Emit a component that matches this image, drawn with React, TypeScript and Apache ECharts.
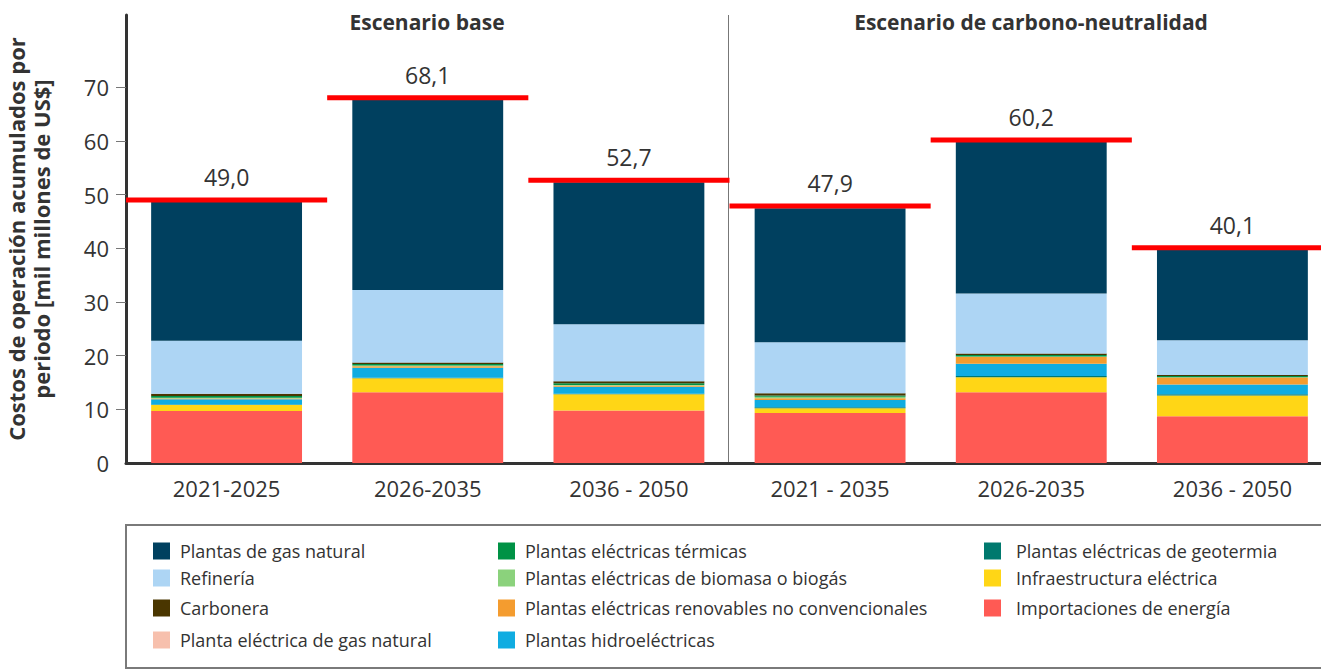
import React, { useEffect, useRef } from 'react';
import * as echarts from 'echarts';

const categories = ['2021-2025', '2026-2035', '2036 - 2050', '2021 - 2035', '2026-2035', '2036 - 2050'];
const totals = [49.0, 68.1, 52.7, 47.9, 60.2, 40.1];

const importaciones = [9.7, 13.2, 9.8, 9.3, 13.2, 8.7];
const infraestructura = [1.1, 2.6, 3.0, 0.9, 2.8, 3.9];
const geotermia = [0.1, 0.1, 0.1, 0.2, 0.2, 0.2];
const hidro = [1.0, 1.85, 1.3, 1.35, 2.3, 1.85];
const renovables = [0.1, 0.3, 0.25, 0.3, 1.25, 1.3];
const biomasa = [0.15, 0.1, 0.1, 0.3, 0.1, 0.05];
const termicas = [0.35, 0.3, 0.3, 0.25, 0.3, 0.2];
const plantaGas = [0, 0, 0, 0, 0, 0];
const carbonera = [0.4, 0.3, 0.4, 0.4, 0.25, 0.2];
const refineria = [9.9, 13.5, 10.6, 9.5, 11.2, 6.5];
const gasNatural = [26.1, 35.5, 26.5, 25.0, 28.4, 17.1];

const yTicks = [0, 10, 20, 30, 40, 50, 60, 70];
const scenarios = ['Escenario base', 'Escenario de carbono-neutralidad'];

const FONT = 'Open Sans';
const TXT = '#333333';

const stackSeries = [
  { name: 'Importaciones de energía', data: importaciones, color: '#FF5A54' },
  { name: 'Infraestructura eléctrica', data: infraestructura, color: '#FFD616' },
  { name: 'Plantas eléctricas de geotermia', data: geotermia, color: '#00796E' },
  { name: 'Plantas hidroeléctricas', data: hidro, color: '#10ACE1' },
  { name: 'Plantas eléctricas renovables no convencionales', data: renovables, color: '#F49C2F' },
  { name: 'Plantas eléctricas de biomasa o biogás', data: biomasa, color: '#8BD27C' },
  { name: 'Plantas eléctricas térmicas', data: termicas, color: '#009245' },
  { name: 'Planta eléctrica de gas natural', data: plantaGas, color: '#F7C0AD' },
  { name: 'Carbonera', data: carbonera, color: '#4A3600' },
  { name: 'Refinería', data: refineria, color: '#ADD5F4' },
  { name: 'Plantas de gas natural', data: gasNatural, color: '#00405F' },
];

// legend layout: [name, swatchLeft, swatchTop, textGap]
const legendLayout: [string, number, number, number][] = [
  ['Plantas de gas natural', 153, 542, 5],
  ['Refinería', 153, 569, 5],
  ['Carbonera', 153, 599, 5],
  ['Planta eléctrica de gas natural', 153, 631, 5],
  ['Plantas eléctricas térmicas', 498, 542, 5],
  ['Plantas eléctricas de biomasa o biogás', 498, 569, 5],
  ['Plantas eléctricas renovables no convencionales', 498, 599, 5],
  ['Plantas hidroeléctricas', 498, 631, 5],
  ['Plantas eléctricas de geotermia', 984, 542, 10],
  ['Infraestructura eléctrica', 984, 569, 10],
  ['Importaciones de energía', 984, 599, 10],
];

export default function App() {
  const ref = useRef<HTMLDivElement>(null);
  useEffect(() => {
    if (!ref.current) return;
    const chart = echarts.init(ref.current, null, { renderer: 'svg' });
    const option: any = {
      animation: false,
      textStyle: { fontFamily: FONT },
      grid: { left: 126, right: 0, top: 15, bottom: 206, containLabel: false, outerBoundsMode: 'none' },
      xAxis: {
        type: 'category',
        data: categories,
        axisLine: { lineStyle: { color: '#333', width: 3 } },
        axisTick: { show: false },
        axisLabel: { fontSize: 22, color: TXT, margin: 14, fontFamily: FONT },
        splitLine: { show: false },
      },
      yAxis: {
        type: 'value',
        min: 0,
        max: 83.5,
        interval: 10,
        name: 'Costos de operación acumulados por\nperiodo [mil millones de US$]',
        nameLocation: 'middle',
        nameRotate: 90,
        nameGap: 73,
        nameTextStyle: { fontSize: 22, fontWeight: 'bold', color: TXT, lineHeight: 25, fontFamily: FONT },
        axisLine: { show: true, lineStyle: { color: '#333', width: 3 } },
        axisTick: { show: true, length: 10, lineStyle: { color: '#777', width: 1 }, customValues: yTicks.slice(1) },
        axisLabel: { fontSize: 22, color: TXT, margin: 17, customValues: yTicks, fontFamily: FONT },
        splitLine: { show: false },
      },
      legend: legendLayout.map(([name, left, top, gap]) => ({
        data: [name],
        left,
        top,
        padding: 0,
        itemWidth: 17,
        itemHeight: 17,
        icon: 'rect',
        selectedMode: false,
        textStyle: { fontSize: 18, color: TXT, fontFamily: FONT, padding: [0, 0, 0, gap] },
      })),
      graphic: [
        {
          type: 'rect',
          shape: { x: 126, y: 525, width: 1220, height: 143 },
          style: { fill: 'none', stroke: '#7a7a7a', lineWidth: 2 },
          z: -1,
        },
        {
          type: 'line',
          shape: { x1: 728.5, y1: 15, x2: 728.5, y2: 462 },
          style: { stroke: '#777', lineWidth: 1 },
          z: -1,
        },
        {
          type: 'text',
          x: 427,
          y: 22,
          style: { text: scenarios[0], fontSize: 21, fontWeight: 'bold', fill: TXT, align: 'center', verticalAlign: 'middle', fontFamily: FONT },
        },
        {
          type: 'text',
          x: 1031,
          y: 22,
          style: { text: scenarios[1], fontSize: 21, fontWeight: 'bold', fill: TXT, align: 'center', verticalAlign: 'middle', fontFamily: FONT },
        },
      ],
      series: [
        ...stackSeries.map((s) => ({
          type: 'bar',
          name: s.name,
          stack: 'total',
          data: s.data,
          barCategoryGap: '25%',
          itemStyle: { color: s.color },
          emphasis: { disabled: true },
        })),
        {
          type: 'custom',
          name: 'Total',
          z: 10,
          data: totals.map((v, i) => [i, v]),
          renderItem: (params: any, api: any) => {
            const v = api.value(1);
            const c = api.coord([api.value(0), v]);
            const w = api.size([1, 0])[0];
            return {
              type: 'group',
              children: [
                {
                  type: 'rect',
                  shape: { x: c[0] - w / 2, y: c[1] - 2.5, width: w, height: 5 },
                  style: { fill: '#FF0000' },
                },
                {
                  type: 'text',
                  x: c[0],
                  y: c[1] - 23,
                  style: {
                    text: v.toFixed(1).replace('.', ','),
                    fontSize: 23,
                    fontWeight: 500,
                    fill: TXT,
                    align: 'center',
                    verticalAlign: 'middle',
                    fontFamily: FONT,
                  },
                },
              ],
            };
          },
        },
      ],
    };
    chart.setOption(option);
    return () => chart.dispose();
  }, []);
  return (
    <div style={{ position: 'absolute', left: 0, top: 0, width: 1321, height: 669, overflow: 'hidden' }}>
      <div ref={ref} style={{ width: 1333, height: 669 }} />
    </div>
  );
}
